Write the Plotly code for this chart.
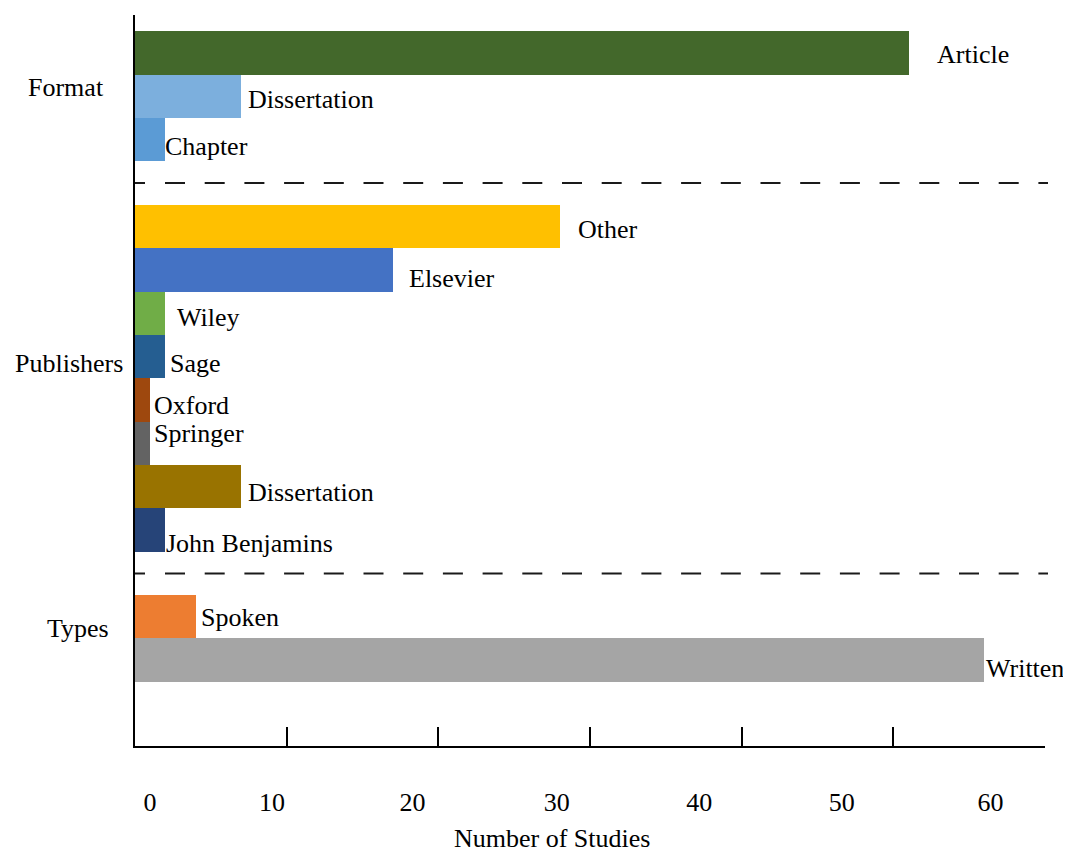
import plotly.graph_objects as go

# ---------------- data ----------------
group_names = ["Format", "Publishers", "Types"]

format_labels = ["Article", "Dissertation", "Chapter"]
format_values = [51, 7, 2]

publisher_labels = ["Other", "Elsevier", "Wiley", "Sage", "Oxford",
                    "Springer", "Dissertation", "John Benjamins"]
publisher_values = [28, 17, 2, 2, 1, 1, 7, 2]

type_labels = ["Spoken", "Written"]
type_values = [4, 56]

x_tick_values = [0, 10, 20, 30, 40, 50, 60]
x_tick_labels = ["0", "10", "20", "30", "40", "50", "60"]
x_title = "Number of Studies"

# ---------------- styles ----------------
format_colors = ["#43682B", "#7CAFDD", "#5B9BD5"]
publisher_colors = ["#FFC000", "#4472C4", "#70AD47", "#255E91", "#9E480E",
                    "#636363", "#997300", "#264478"]
type_colors = ["#ED7D31", "#A5A5A5"]

# label offsets (px right of bar end, px below bar centre)
format_offsets = [(26, 2), (5, 3), (-2, 7)]
publisher_offsets = [(16, 3), (14, 9), (10, 4), (3, 7), (2, 6), (2, -10),
                     (5, 6), (-1, 13)]
type_offsets = [(3, 1), (0, 8)]

# where the (misaligned) tick labels sit, in axis units
x_label_positions = [0.99, 9.03, 18.3, 27.8, 37.2, 46.6, 56.4]

FONT = "Liberation Serif, Times New Roman, serif"
FS = 26

groups = [
    (format_labels, format_values, format_colors, format_offsets),
    (publisher_labels, publisher_values, publisher_colors, publisher_offsets),
    (type_labels, type_values, type_colors, type_offsets),
]

# build rows, one empty row between groups
labels, values, colors, offsets, positions = [], [], [], [], []
separators = []
row = 0
for gi, (lab, val, col, off) in enumerate(groups):
    for l, v, c, o in zip(lab, val, col, off):
        labels.append(l)
        values.append(v)
        colors.append(c)
        offsets.append(o)
        positions.append(row)
        row += 1
    if gi < len(groups) - 1:
        separators.append(row)
        row += 1

fig = go.Figure()
fig.add_trace(go.Bar(
    x=values, y=positions, orientation="h", width=1.0,
    marker=dict(color=colors, line=dict(width=0)),
    hoverinfo="skip", showlegend=False,
))
# helper trace to make the label axis render
fig.add_trace(go.Scatter(x=[None], y=[None], xaxis="x2", yaxis="y",
                         mode="markers", showlegend=False, hoverinfo="skip"))

annotations = []
for l, v, p, (dx, dy) in zip(labels, values, positions, offsets):
    annotations.append(dict(
        x=v, y=p, xref="x", yref="y", text=l, showarrow=False,
        xanchor="left", yanchor="middle", xshift=dx, yshift=-dy,
        font=dict(family=FONT, size=FS, color="black"),
    ))

group_label_px = [(65.5, 0.807), (68.5, 7.15), (77.5, 13.28)]
for name, (px, yy) in zip(group_names, group_label_px):
    annotations.append(dict(
        x=(px - 135) / 910, y=yy, xref="paper", yref="y", text=name,
        showarrow=False, xanchor="center", yanchor="middle",
        font=dict(family=FONT, size=FS, color="black"),
    ))

annotations.append(dict(
    x=(552 - 135) / 910, y=0, xref="paper", yref="paper", text=x_title,
    showarrow=False, xanchor="center", yanchor="middle", yshift=-92,
    font=dict(family=FONT, size=FS, color="black"),
))

dash = "10px,20px" + ",20px,19.7px" * 24
shapes = []
for s in separators:
    shapes.append(dict(
        type="line", xref="paper", yref="y", x0=0, x1=(1048 - 135) / 910,
        y0=s, y1=s,
        line=dict(color="#1a1a1a", width=2, dash=dash),
    ))

fig.update_layout(
    width=1063, height=844,
    margin=dict(l=127, r=26, t=7, b=106),
    paper_bgcolor="white", plot_bgcolor="white",
    font=dict(family=FONT, size=FS, color="black"),
    showlegend=False,
    annotations=annotations,
    shapes=shapes,
    bargap=0,
    xaxis=dict(
        range=[0, 60], tickvals=x_tick_values, showticklabels=False,
        ticks="inside", ticklen=19, tickwidth=2, tickcolor="black",
        showline=True, linecolor="black", linewidth=2,
        showgrid=False, zeroline=False, fixedrange=True,
    ),
    xaxis2=dict(
        overlaying="x", anchor="y", side="bottom",
        range=[0, 60], tickvals=x_label_positions, ticktext=x_tick_labels,
        ticks="outside", ticklen=33, tickcolor="rgba(0,0,0,0)",
        tickfont=dict(family=FONT, size=FS, color="black"),
        showline=False, showgrid=False, zeroline=False, fixedrange=True,
    ),
    yaxis=dict(
        range=[15.98, -0.876], showticklabels=False, ticks="",
        showline=True, linecolor="black", linewidth=2,
        showgrid=False, zeroline=False, fixedrange=True,
    ),
)

fig.write_html("out.html")
